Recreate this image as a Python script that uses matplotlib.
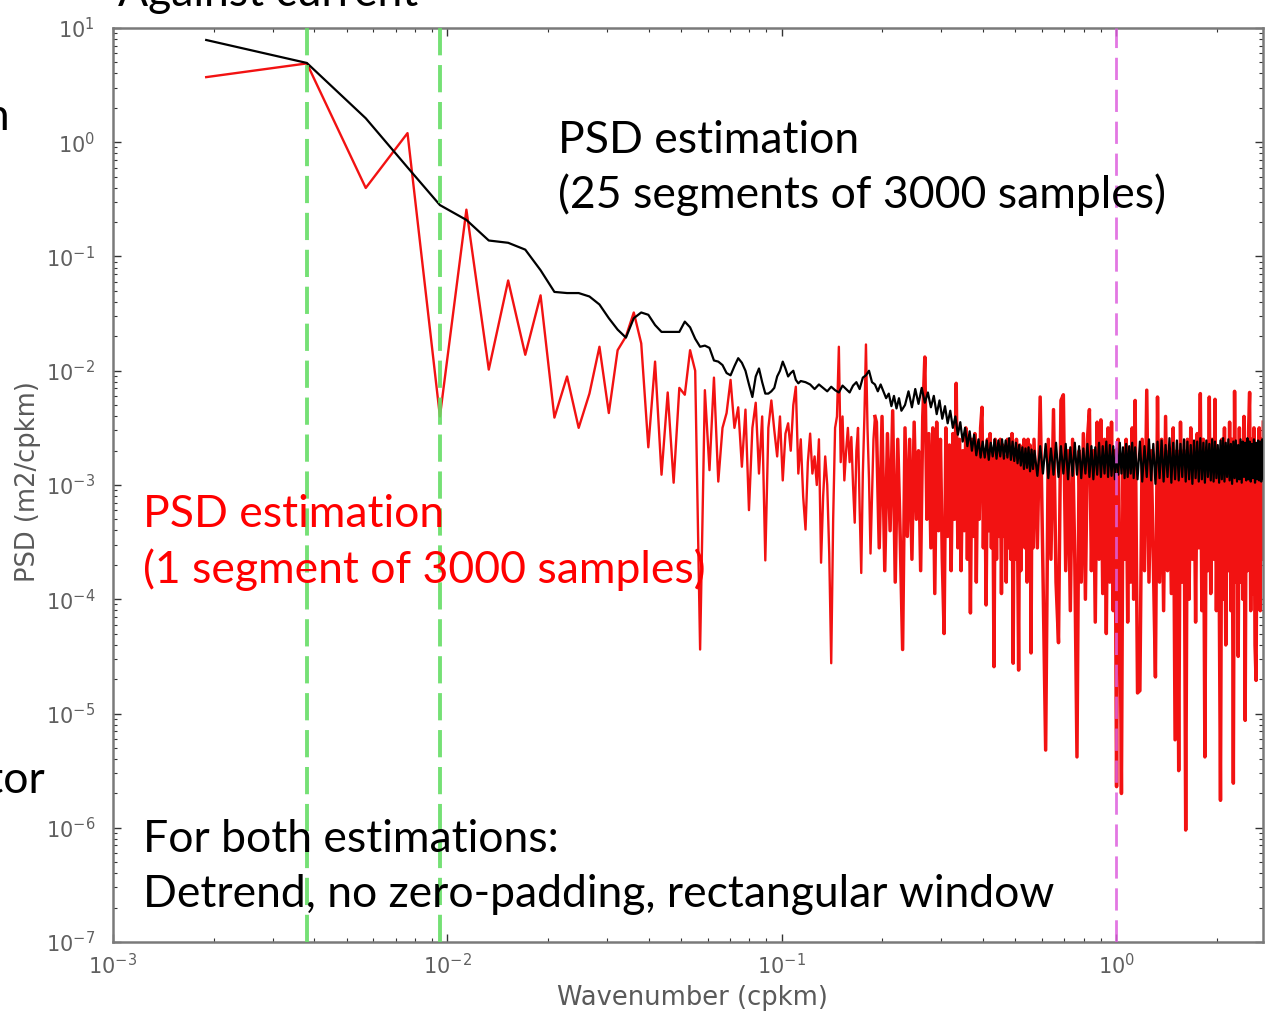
import numpy as np
import matplotlib
matplotlib.use("Agg")
import matplotlib.pyplot as plt
from matplotlib.ticker import LogLocator, NullFormatter

plt.rcParams['font.family'] = ['DejaVu Sans']
plt.rcParams['mathtext.default'] = 'regular'

# wavenumber grid spacing (cpkm), values are k * dk
dk = 0.0019

# single segment periodogram (red), log10 of PSD
red_k1 = list(range(1, 101))
red_p1 = [0.57, 0.69, -0.40, 0.08, -2.40, -0.59, -1.99, -1.21, -1.86, -1.34,
          -2.41, -2.05, -2.50, -2.20, -1.79, -2.37, -1.82, -1.70, -1.49, -1.76,
          -2.67, -1.92, -2.91, -2.19, -2.98, -2.15, -2.21, -1.82, -2.00, -4.44,
          -2.17, -2.87, -2.06, -2.97, -2.50, -2.37, -2.08, -2.50, -2.32, -2.84,
          -2.34, -3.22, -2.50, -2.28, -2.90, -2.40, -3.66, -2.50, -2.26, -2.52,
          -2.75, -2.40, -2.96, -2.55, -2.46, -2.70, -2.30, -2.14, -2.90, -2.60,
          -3.10, -3.39, -2.80, -2.55, -2.90, -2.75, -3.00, -2.60, -3.68, -3.10,
          -2.75, -3.00, -3.60, -4.56, -3.30, -2.50, -2.40, -1.79, -2.80, -2.40,
          -2.96, -2.70, -2.50, -2.80, -2.58, -3.00, -3.33, -2.70, -2.50, -3.20,
          -3.77, -2.90, -2.40, -1.77, -2.50, -2.95, -3.60, -3.10, -2.60, -2.40]
red_k2 = list(range(101, 301, 2))
red_p2 = [-2.45, -3.55, -2.40, -3.75, -2.55, -3.40, -2.35, -3.85, -2.60, -3.45,
          -4.44, -2.50, -3.45, -2.60, -3.65, -2.45, -3.30, -2.70, -3.75, -2.40,
          -1.88, -3.30, -2.55, -3.55, -2.50, -3.95, -2.45, -3.40, -2.60, -3.65,
          -4.30, -2.50, -3.45, -2.65, -3.75, -2.55, -3.30, -2.11, -3.55, -2.60,
          -3.75, -2.70, -3.40, -2.50, -3.65, -2.60, -4.12, -2.60, -3.45, -2.55,
          -3.85, -2.65, -3.30, -2.50, -2.32, -3.55, -2.70, -4.05, -2.60, -3.40,
          -2.55, -3.55, -2.70, -4.59, -2.60, -3.65, -2.65, -3.45, -2.60, -3.95,
          -2.65, -3.45, -2.75, -3.85, -2.60, -3.55, -2.70, -3.65, -2.55, -4.56,
          -2.70, -3.65, -2.60, -3.40, -4.62, -2.65, -3.75, -2.70, -3.45, -2.60,
          -3.55, -2.70, -3.85, -2.60, -3.65, -2.65, -4.47, -2.70, -3.55, -2.60]
red_k3 = list(range(306, 601, 6))
red_p3 = [-3.55, -2.23, -3.75, -5.32, -2.60, -3.65, -2.34, -3.85, -4.38, -2.26,
          -2.21, -3.75, -2.70, -4.10, -2.60, -3.65, -5.38, -2.70, -3.85, -2.55,
          -4.00, -2.60, -2.34, -3.75, -2.70, -4.20, -2.45, -3.65, -2.43, -3.95,
          -2.60, -4.30, -2.50, -3.85, -2.45, -4.10, -2.70, -5.64, -2.60, -3.75,
          -5.70, -2.75, -3.65, -2.60, -4.20, -2.70, -3.85, -2.50, -4.00, -2.26]
red_k4 = list(range(610, 1451, 10))
red_p4 = [-4.82, -4.80, -2.60, -3.75, -2.17, -3.85, -2.70, -3.65, -4.68, -2.23,
          -3.85, -2.60, -4.10, -2.40, -3.75, -2.70, -3.95, -2.50, -5.23, -2.70,
          -5.50, -2.45, -3.85, -2.70, -6.02, -2.60, -4.00, -2.50, -3.65, -2.65,
          -4.20, -2.55, -3.55, -2.20, -4.10, -2.60, -5.38, -2.70, -3.75, -2.23,
          -3.95, -2.60, -3.65, -2.25, -4.10, -2.70, -3.75, -5.76, -2.60, -4.00,
          -2.50, -4.40, -2.70, -3.75, -2.45, -4.10, -2.60, -5.61, -2.18, -3.85,
          -2.70, -4.50, -2.50, -3.85, -2.65, -4.00, -2.40, -5.06, -2.70, -3.75,
          -2.55, -2.19, -4.10, -2.60, -3.95, -2.50, -4.40, -4.71, -2.70, -3.85,
          -2.50, -4.10, -2.60, -3.65, -2.45]

# averaged estimate, 25 segments (black), log10 of PSD
blk_k1 = list(range(1, 61))
blk_p1 = [0.895, 0.694, 0.21, -0.22, -0.55, -0.68, -0.86, -0.88, -0.94, -1.12,
          -1.31, -1.32, -1.32, -1.35, -1.42, -1.54, -1.64, -1.71, -1.54, -1.49,
          -1.51, -1.60, -1.66, -1.66, -1.66, -1.66, -1.57, -1.62, -1.72, -1.79,
          -1.78, -1.80, -1.91, -1.92, -1.95, -2.02, -2.04, -1.96, -1.89, -1.93,
          -2.00, -2.12, -2.23, -2.05, -1.98, -2.10, -2.20, -2.20, -2.18, -2.15,
          -2.05, -2.00, -1.92, -1.98, -2.05, -2.02, -2.00, -2.08, -2.11, -2.09]
blk_k2 = list(range(62, 121, 2))
blk_p2 = [-2.10, -2.12, -2.16, -2.12, -2.15, -2.18, -2.14, -2.17, -2.19, -2.13,
          -2.16, -2.19, -2.13, -2.10, -2.16, -2.06, -2.04, -2.00, -2.10, -2.12,
          -2.18, -2.12, -2.18, -2.24, -2.20, -2.31, -2.22, -2.33, -2.24, -2.35]
blk_k3 = list(range(123, 301, 3))
blk_p3 = [-2.30, -2.18, -2.32, -2.16, -2.29, -2.15, -2.28, -2.19, -2.32, -2.22,
          -2.38, -2.26, -2.42, -2.31, -2.46, -2.35, -2.50, -2.40, -2.56, -2.45,
          -2.62, -2.50, -2.66, -2.53, -2.70, -2.56, -2.74, -2.60, -2.76, -2.62,
          -2.76, -2.61, -2.78, -2.63, -2.75, -2.60, -2.77, -2.61, -2.75, -2.60,
          -2.77, -2.61, -2.76, -2.59, -2.78, -2.62, -2.79, -2.63, -2.81, -2.65,
          -2.83, -2.67, -2.86, -2.68, -2.85, -2.67, -2.88, -2.69, -2.86, -2.70]
blk_k4 = list(range(306, 601, 6))
blk_p4 = [-2.92, -2.66, -2.90, -2.64, -2.94, -2.68, -2.91, -2.63, -2.93, -2.66,
          -2.90, -2.64, -2.95, -2.67, -2.92, -2.63, -2.91, -2.66, -2.94, -2.68,
          -2.90, -2.64, -2.93, -2.66, -2.95, -2.67, -2.91, -2.63, -2.93, -2.66,
          -2.90, -2.62, -2.93, -2.65, -2.92, -2.66, -2.95, -2.68, -2.91, -2.63,
          -2.90, -2.67, -2.94, -2.64, -2.93, -2.66, -2.90, -2.63, -2.94, -2.67]
blk_k5 = list(range(610, 1451, 10))
blk_p5 = [-2.95, -2.62, -2.97, -2.66, -2.93, -2.60, -2.96, -2.64, -2.99, -2.62,
          -2.94, -2.61, -2.97, -2.65, -2.93, -2.59, -2.98, -2.63, -2.95, -2.61,
          -2.96, -2.64, -2.93, -2.60, -2.97, -2.62, -2.95, -2.65, -2.99, -2.61,
          -2.94, -2.62, -2.97, -2.59, -2.95, -2.63, -2.98, -2.61, -2.93, -2.64,
          -2.96, -2.60, -2.97, -2.62, -2.94, -2.65, -2.98, -2.61, -2.95, -2.59,
          -2.97, -2.63, -2.93, -2.60, -2.96, -2.64, -2.99, -2.62, -2.94, -2.61,
          -2.97, -2.65, -2.95, -2.60, -2.98, -2.62, -2.93, -2.63, -2.96, -2.59,
          -2.95, -2.62, -2.97, -2.64, -2.94, -2.60, -2.98, -2.63, -2.95, -2.61,
          -2.96, -2.62, -2.97, -2.60, -2.94]

green_lines = [0.0038, 0.0095]
magenta_lines = [1.0]

red_k = np.array(red_k1 + red_k2 + red_k3 + red_k4)
red_psd = 10.0 ** np.array(red_p1 + red_p2 + red_p3 + red_p4)
blk_k = np.array(blk_k1 + blk_k2 + blk_k3 + blk_k4 + blk_k5)
blk_psd = 10.0 ** np.array(blk_p1 + blk_p2 + blk_p3 + blk_p4 + blk_p5)

W, H = 1265, 1013
fig = plt.figure(figsize=(W / 100, H / 100), dpi=100)
ax = fig.add_axes([113 / W, 1 - 942 / H, 1150 / W, 914 / H])

# the dense high wavenumber part is drawn heavier, as it looks in the blurred original
n1 = len(red_k1)
ax.plot(red_k[:n1] * dk, red_psd[:n1], color='#f21212', lw=1.7, zorder=2)
ax.plot(red_k[n1 - 1:] * dk, red_psd[n1 - 1:], color='#f21212', lw=2.5, zorder=2)
ax.plot(blk_k * dk, blk_psd, color='black', lw=1.6, zorder=3)
for x in green_lines:
    ax.axvline(x, color='#66dd66', lw=2.8, ls=(0, (7, 2.5)), alpha=0.9, zorder=4)
for x in magenta_lines:
    ax.axvline(x, color='#dd5fdd', lw=2.0, ls=(0, (8, 3.5)), alpha=0.85, zorder=4)

ax.set_xscale('log')
ax.set_yscale('log')
ax.set_xlim(1e-3, 2.75)
ax.set_ylim(1e-7, 1e1)
for a in (ax.xaxis, ax.yaxis):
    a.set_major_locator(LogLocator(base=10, numticks=20))
    a.set_minor_locator(LogLocator(base=10, subs=np.arange(2, 10), numticks=20))
    a.set_minor_formatter(NullFormatter())
ax.tick_params(which='both', direction='in', top=True, right=True,
               colors='#333333', labelcolor='#606060', labelsize=15)
ax.tick_params(which='major', length=6, width=1)
ax.tick_params(which='minor', length=3, width=0.8)
ax.tick_params(axis='y', pad=13)
ax.tick_params(axis='x', pad=8)
for s in ax.spines.values():
    s.set_color('#7a7a7a')
    s.set_linewidth(1.8)

fig.text(692 / W, 1 - 998 / H, 'Wavenumber (cpkm)', ha='center', va='center',
         fontsize=18.5, color='#5a5a5a')
fig.text(28 / W, 1 - 482 / H, 'PSD (m2/cpkm)', ha='center', va='center',
         rotation=90, fontsize=18.5, color='#5a5a5a')


def note(x, y, s, color='black', ha='left'):
    fig.text(x / W, 1 - y / H, s, ha=ha, va='baseline', fontsize=32,
             color=color, family='Lato')


note(558, 153, 'PSD estimation')
note(558, 208, '(25 segments of 3000 samples)')
note(143, 527, 'PSD estimation', color='#ff0000')
note(143, 583, '(1 segment of 3000 samples)', color='#ff0000')
note(143, 852, 'For both estimations:')
note(143, 907, 'Detrend, no zero-padding, rectangular window')
# pieces of the surrounding slide text, cut by the crop
note(118, 6, 'Against current')
note(10, 130, 'tion', ha='right')
note(45, 793, 'ctor', ha='right')

fig.savefig('out.png', dpi=100)
